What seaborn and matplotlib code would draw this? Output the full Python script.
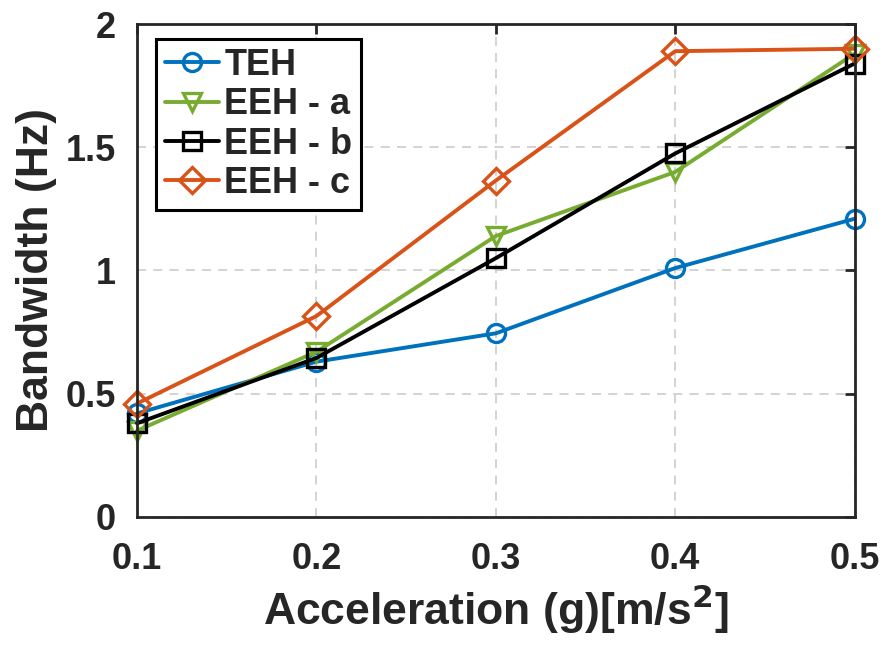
import matplotlib
matplotlib.use("Agg")
import matplotlib.pyplot as plt
import seaborn as sns
import pandas as pd

accel = [0.1, 0.2, 0.3, 0.4, 0.5]
teh = [0.42, 0.63, 0.745, 1.01, 1.21]
eeh_a = [0.35, 0.67, 1.14, 1.40, 1.88]
eeh_b = [0.38, 0.645, 1.05, 1.475, 1.84]
eeh_c = [0.46, 0.815, 1.365, 1.89, 1.90]
series_names = ["TEH", "EEH - a", "EEH - b", "EEH - c"]
colors = ["#0072BD", "#77AC30", "#000000", "#D95319"]
markers = ["o", "v", "s", "D"]
xticks = [0.1, 0.2, 0.3, 0.4, 0.5]
yticks = [0, 0.5, 1, 1.5, 2]
ytick_labels = ["0", "0.5", "1", "1.5", "2"]

sns.set_style("white")
plt.rcParams["font.family"] = ["Liberation Sans", "DejaVu Sans"]
plt.rcParams["font.weight"] = "bold"

df = pd.DataFrame({
    "x": accel * 4,
    "y": teh + eeh_a + eeh_b + eeh_c,
    "s": [n for n in series_names for _ in accel],
})

fig = plt.figure(figsize=(8.87, 6.51), dpi=100)
ax = fig.add_axes([0.1545, 0.206, 0.809, 0.757])
ax.grid(True, color="#d0d0d0", linestyle=(0, (5, 4)), linewidth=1.3)
ax.set_axisbelow(True)

LW, MS, MEW = 2.8, 13, 2.4
sns.lineplot(data=df, x="x", y="y", hue="s", style="s", palette=colors,
             markers=markers, dashes=False, linewidth=LW, markersize=MS,
             ax=ax, legend=False)
for line, c in zip(ax.lines, colors):
    line.set_markeredgecolor(c)
    line.set_markerfacecolor("none")
    line.set_markeredgewidth(MEW)
    line.set_clip_on(False)

handles = [plt.Line2D([], [], color=c, marker=m, lw=LW, markersize=MS,
                      markerfacecolor="none", markeredgewidth=MEW, markeredgecolor=c)
           for c, m in zip(colors, markers)]
leg = ax.legend(handles, series_names, loc="upper left", bbox_to_anchor=(0.026, 0.97),
                frameon=True, fancybox=False, edgecolor="black",
                handlelength=1.5, handletextpad=0.15, labelspacing=0.12, borderpad=0.25,
                borderaxespad=0.0, prop={"weight": "bold", "size": 26})
leg.get_frame().set_linewidth(2.2)
leg.get_frame().set_alpha(1)

ax.set_xlim(0.1, 0.5)
ax.set_ylim(0, 2)
ax.set_xticks(xticks)
ax.set_xticklabels([f"{v:.1f}" for v in xticks])
ax.set_yticks(yticks)
ax.set_yticklabels(ytick_labels)
ax.tick_params(direction="in", length=7, width=2, labelsize=26,
               top=True, right=True)
ax.tick_params(axis="x", pad=18)
ax.tick_params(axis="y", pad=15)
for lab in ax.get_xticklabels() + ax.get_yticklabels():
    lab.set_fontweight("bold")
for sp in ax.spines.values():
    sp.set_visible(True)
    sp.set_color("#262626")
    sp.set_linewidth(2)

ax.set_xlabel("Acceleration (g)[m/s$^\\mathbf{2}$]", fontsize=32, fontweight="bold", labelpad=4)
ax.set_ylabel("Bandwidth (Hz)", fontsize=32, fontweight="bold", labelpad=6)

fig.savefig("out.png", dpi=100)
